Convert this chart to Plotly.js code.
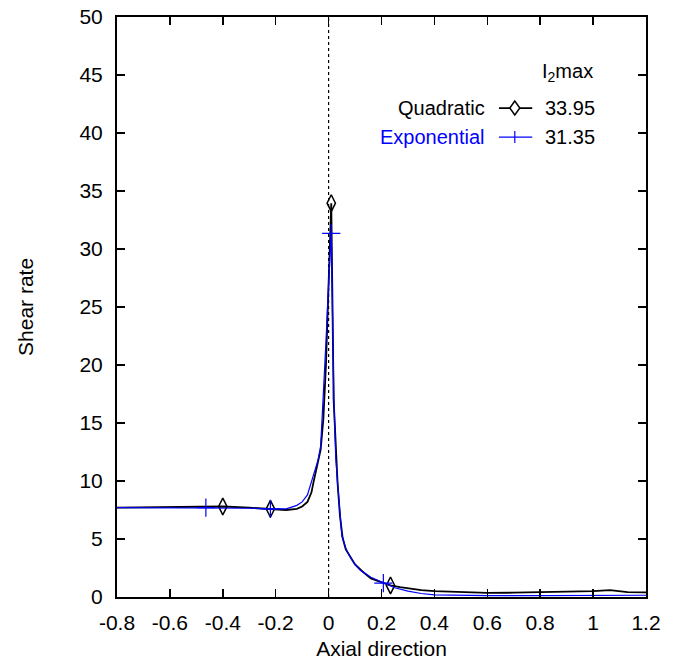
<!DOCTYPE html>
<html>
<head>
<meta charset="utf-8">
<script src="https://cdn.plot.ly/plotly-3.0.1.min.js"></script>
<style>html,body{margin:0;padding:0;background:#fff;}#chart{width:678px;height:664px;}</style>
</head>
<body>
<div id="chart"></div>
<script>
// Quadratic (black) curve
const quadX = [-0.8, -0.6, -0.4, -0.3, -0.22, -0.16, -0.12, -0.1, -0.08, -0.065, -0.057, -0.04, -0.03, -0.02, -0.01, 0.0, 0.01, 0.019, 0.027, 0.034, 0.043, 0.053, 0.065, 0.083, 0.1, 0.128, 0.16, 0.196, 0.234, 0.27, 0.31, 0.35, 0.4, 0.5, 0.6, 0.7, 0.8, 0.9, 1.0, 1.064, 1.13, 1.2];
const quadY = [7.7, 7.75, 7.8, 7.7, 7.6, 7.5, 7.6, 7.8, 8.2, 9.0, 9.9, 11.5, 12.7, 15.3, 20.0, 27.0, 33.95, 17.0, 12.5, 9.8, 7.0, 5.1, 4.1, 3.4, 2.8, 2.2, 1.6, 1.3, 1.0, 0.85, 0.72, 0.6, 0.5, 0.4, 0.35, 0.37, 0.42, 0.45, 0.5, 0.6, 0.42, 0.4];
// marker positions on the quadratic curve
const quadMarkX = [-0.4, -0.22, 0.01, 0.234];
const quadMarkY = [7.8, 7.6, 33.95, 1.0];

// Exponential (blue) curve
const expX = [-0.8, -0.6, -0.464, -0.3, -0.22, -0.16, -0.12, -0.1, -0.08, -0.06, -0.04, -0.03, -0.02, -0.01, 0.0, 0.01, 0.02, 0.027, 0.035, 0.043, 0.05, 0.065, 0.08, 0.1, 0.12, 0.16, 0.207, 0.25, 0.3, 0.35, 0.4, 0.5, 0.6, 0.8, 1.0, 1.2];
const expY = [7.7, 7.7, 7.7, 7.65, 7.6, 7.6, 7.9, 8.2, 8.8, 10.2, 11.8, 13.0, 17.0, 22.0, 27.0, 31.35, 17.0, 12.0, 9.5, 7.0, 5.3, 4.2, 3.5, 2.8, 2.3, 1.7, 1.2, 0.8, 0.5, 0.3, 0.18, 0.12, 0.12, 0.12, 0.12, 0.15];
const expMarkX = [-0.464, -0.22, 0.01, 0.207];
const expMarkY = [7.7, 7.6, 31.35, 1.2];

// axes ticks
const xTickVals = [-0.8, -0.6, -0.4, -0.2, 0, 0.2, 0.4, 0.6, 0.8, 1, 1.2];
const xTickText = ["-0.8", "-0.6", "-0.4", "-0.2", "0", "0.2", "0.4", "0.6", "0.8", "1", "1.2"];
const yTickVals = [0, 5, 10, 15, 20, 25, 30, 35, 40, 45, 50];
const yTickText = ["0", "5", "10", "15", "20", "25", "30", "35", "40", "45", "50"];

// legend
const seriesNames = ["Quadratic", "Exponential"];
const seriesMax = ["33.95", "31.35"];
const legendHeader = "I<sub>2</sub>max";

const sans = "Liberation Sans, Arial, sans-serif";
const BLUE = "#0000ff";

const traces = [
  {x: quadX, y: quadY, mode: "lines", line: {color: "#000", width: 1.8}, hoverinfo: "none", showlegend: false},
  {x: quadMarkX, y: quadMarkY, mode: "markers", marker: {symbol: "diamond-tall-open", size: 12, color: "#000", line: {width: 1.5, color: "#000"}}, showlegend: false},
  {x: expX, y: expY, mode: "lines", line: {color: BLUE, width: 1.2}, showlegend: false},
  {x: expMarkX, y: expMarkY, mode: "markers", marker: {symbol: "cross-thin-open", size: 13, color: BLUE, line: {width: 1.2, color: BLUE}}, showlegend: false}
];

// legend geometry in paper coords
const ly = [0.843, 0.793];
const lx0 = 0.722, lx1 = 0.785, lmid = 0.752;
const dxp = 5 / 529, dyp = 7 / 580, cxp = 6 / 529, cyp = 6 / 580;

const shapes = [
  {type: "line", xref: "x", yref: "paper", x0: 0, x1: 0, y0: 0, y1: 1, line: {color: "#000", width: 1.2, dash: "dot"}, layer: "below"},
  {type: "line", xref: "paper", yref: "paper", x0: lx0, x1: lx1, y0: ly[0], y1: ly[0], line: {color: "#000", width: 1.8}},
  {type: "path", xref: "paper", yref: "paper",
   path: `M ${lmid - dxp} ${ly[0]} L ${lmid} ${ly[0] + dyp} L ${lmid + dxp} ${ly[0]} L ${lmid} ${ly[0] - dyp} Z`,
   fillcolor: "#fff", line: {color: "#000", width: 1.5}},
  {type: "line", xref: "paper", yref: "paper", x0: lx0, x1: lx1, y0: ly[1], y1: ly[1], line: {color: BLUE, width: 1.2}},
  {type: "line", xref: "paper", yref: "paper", x0: lmid, x1: lmid, y0: ly[1] - cyp, y1: ly[1] + cyp, line: {color: BLUE, width: 1.2}}
];

const annotations = [
  {xref: "paper", yref: "paper", x: 0.80, y: 0.905, xanchor: "left", yanchor: "middle", text: legendHeader, showarrow: false, font: {family: sans, size: 20, color: "#000"}},
  {xref: "paper", yref: "paper", x: 0.699, y: ly[0], xanchor: "right", yanchor: "middle", text: seriesNames[0], showarrow: false, font: {family: sans, size: 20, color: "#000"}},
  {xref: "paper", yref: "paper", x: 0.805, y: ly[0], xanchor: "left", yanchor: "middle", text: seriesMax[0], showarrow: false, font: {family: sans, size: 20, color: "#000"}},
  {xref: "paper", yref: "paper", x: 0.699, y: ly[1], xanchor: "right", yanchor: "middle", text: seriesNames[1], showarrow: false, font: {family: sans, size: 20, color: BLUE}},
  {xref: "paper", yref: "paper", x: 0.805, y: ly[1], xanchor: "left", yanchor: "middle", text: seriesMax[1], showarrow: false, font: {family: sans, size: 20, color: "#000"}},
  {xref: "paper", yref: "paper", x: -0.174, y: 0.5, xanchor: "center", yanchor: "middle", textangle: -90, text: "Shear rate", showarrow: false, font: {family: sans, size: 21, color: "#000"}}
];

const layout = {
  width: 678, height: 664,
  margin: {l: 117, r: 32, t: 17, b: 67, pad: 0},
  paper_bgcolor: "#fff", plot_bgcolor: "#fff",
  showlegend: false,
  xaxis: {
    range: [-0.8, 1.2], tickvals: xTickVals, ticktext: xTickText,
    ticks: "inside", ticklen: 8, tickwidth: 1.5, tickcolor: "#000",
    showline: true, linewidth: 2, linecolor: "#000", mirror: "ticks",
    showgrid: false, zeroline: false,
    tickfont: {family: sans, size: 21, color: "#000"},
    ticklabelstandoff: 6,
    title: {text: "Axial direction", font: {family: sans, size: 21, color: "#000"}, standoff: 8}
  },
  yaxis: {
    range: [0, 50], tickvals: yTickVals, ticktext: yTickText,
    ticks: "inside", ticklen: 8, tickwidth: 1.5, tickcolor: "#000",
    showline: true, linewidth: 2, linecolor: "#000", mirror: "ticks",
    showgrid: false, zeroline: false,
    tickfont: {family: sans, size: 21, color: "#000"},
    ticklabelstandoff: 8
  },
  shapes: shapes,
  annotations: annotations
};

Plotly.newPlot("chart", traces, layout, {displayModeBar: false, staticPlot: true});
</script>
</body>
</html>
